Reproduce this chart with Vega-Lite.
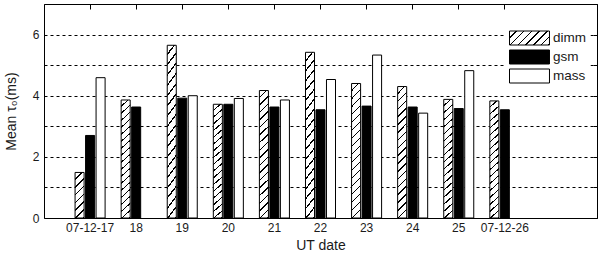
{
  "$schema": "https://vega.github.io/schema/vega-lite/v6.json",
  "width": 553,
  "height": 214,
  "autosize": {"type": "none"},
  "padding": {"left": 44, "top": 4, "right": 3, "bottom": 36},
  "background": "white",
  "config": {
    "view": {"stroke": "black", "strokeWidth": 1},
    "font": "Liberation Sans",
    "axis": {"labelFont": "Liberation Sans", "titleFont": "Liberation Sans", "labelColor": "#1a1a1a", "titleColor": "#1a1a1a", "titleFontWeight": "normal", "domainColor": "black", "tickColor": "black"}
  },
  "data": {"values": [
    {"date": "07-12-17", "series": "dimm", "value": 1.49},
    {"date": "07-12-17", "series": "gsm", "value": 2.70},
    {"date": "07-12-17", "series": "mass", "value": 4.59},
    {"date": "18", "series": "dimm", "value": 3.86},
    {"date": "18", "series": "gsm", "value": 3.63},
    {"date": "19", "series": "dimm", "value": 5.65},
    {"date": "19", "series": "gsm", "value": 3.92},
    {"date": "19", "series": "mass", "value": 4.00},
    {"date": "20", "series": "dimm", "value": 3.72},
    {"date": "20", "series": "gsm", "value": 3.72},
    {"date": "20", "series": "mass", "value": 3.91},
    {"date": "21", "series": "dimm", "value": 4.17},
    {"date": "21", "series": "gsm", "value": 3.63},
    {"date": "21", "series": "mass", "value": 3.86},
    {"date": "22", "series": "dimm", "value": 5.42},
    {"date": "22", "series": "gsm", "value": 3.54},
    {"date": "22", "series": "mass", "value": 4.53},
    {"date": "23", "series": "dimm", "value": 4.40},
    {"date": "23", "series": "gsm", "value": 3.66},
    {"date": "23", "series": "mass", "value": 5.33},
    {"date": "24", "series": "dimm", "value": 4.30},
    {"date": "24", "series": "gsm", "value": 3.63},
    {"date": "24", "series": "mass", "value": 3.43},
    {"date": "25", "series": "dimm", "value": 3.88},
    {"date": "25", "series": "gsm", "value": 3.58},
    {"date": "25", "series": "mass", "value": 4.82},
    {"date": "07-12-26", "series": "dimm", "value": 3.83},
    {"date": "07-12-26", "series": "gsm", "value": 3.54}
  ]},
  "layer": [
    {
      "mark": {"type": "bar", "stroke": "black", "strokeWidth": 1, "opacity": 1},
      "encoding": {
        "x": {
          "field": "date", "type": "ordinal",
          "scale": {"domain": ["07-12-17","18","19","20","21","22","23","24","25","07-12-26"], "paddingInner": 0, "paddingOuter": 1, "align": 0.25},
          "axis": {"title": "UT date", "titleFontSize": 14, "titlePadding": 5, "labelFontSize": 12, "labelAngle": 0, "labelPadding": 4, "ticks": false, "domain": false}
        },
        "xOffset": {
          "field": "series", "type": "nominal",
          "scale": {"domain": ["dimm", "gsm", "mass"], "paddingInner": 0.14, "paddingOuter": 0.765}
        },
        "y": {
          "field": "value", "type": "quantitative",
          "scale": {"domain": [0, 7], "nice": false},
          "axis": {"title": "Mean τ₀(ms)", "titleFontSize": 14, "titlePadding": 14, "labelFontSize": 12, "labelPadding": 5, "ticks": false, "domain": false,
            "values": [0, 1, 2, 3, 4, 5, 6, 7],
            "labelExpr": "datum.value % 2 === 0 ? datum.label : ''",
            "grid": true, "gridColor": "black", "gridDash": [3, 3], "gridWidth": 1, "gridOpacity": 1}
        },
        "fill": {
          "condition": [
            {"test": "datum.series == 'dimm' && datum.date == '07-12-17'", "value": {"gradient": "linear", "x1": 0, "y1": 0, "x2": 0.228, "y2": 1.153, "stops": [
              {"offset": 0, "color": "#fff"},
              {"offset": 0.1143, "color": "#fff"}, {"offset": 0.1143, "color": "#000"}, {"offset": 0.1429, "color": "#000"}, {"offset": 0.1429, "color": "#fff"},
              {"offset": 0.2571, "color": "#fff"}, {"offset": 0.2571, "color": "#000"}, {"offset": 0.2857, "color": "#000"}, {"offset": 0.2857, "color": "#fff"},
              {"offset": 0.4, "color": "#fff"}, {"offset": 0.4, "color": "#000"}, {"offset": 0.4286, "color": "#000"}, {"offset": 0.4286, "color": "#fff"},
              {"offset": 0.5429, "color": "#fff"}, {"offset": 0.5429, "color": "#000"}, {"offset": 0.5714, "color": "#000"}, {"offset": 0.5714, "color": "#fff"},
              {"offset": 0.6857, "color": "#fff"}, {"offset": 0.6857, "color": "#000"}, {"offset": 0.7143, "color": "#000"}, {"offset": 0.7143, "color": "#fff"},
              {"offset": 0.8286, "color": "#fff"}, {"offset": 0.8286, "color": "#000"}, {"offset": 0.8571, "color": "#000"}, {"offset": 0.8571, "color": "#fff"},
              {"offset": 0.9714, "color": "#fff"}, {"offset": 0.9714, "color": "#000"}, {"offset": 1, "color": "#000"}
            ]}},
            {"test": "datum.series == 'dimm'", "value": {"gradient": "linear", "x1": 0, "y1": 0, "x2": 0.0735, "y2": 1.064, "stops": [
              {"offset": 0, "color": "#fff"},
              {"offset": 0.0444, "color": "#fff"}, {"offset": 0.0444, "color": "#000"}, {"offset": 0.0556, "color": "#000"}, {"offset": 0.0556, "color": "#fff"},
              {"offset": 0.1, "color": "#fff"}, {"offset": 0.1, "color": "#000"}, {"offset": 0.1111, "color": "#000"}, {"offset": 0.1111, "color": "#fff"},
              {"offset": 0.1556, "color": "#fff"}, {"offset": 0.1556, "color": "#000"}, {"offset": 0.1667, "color": "#000"}, {"offset": 0.1667, "color": "#fff"},
              {"offset": 0.2111, "color": "#fff"}, {"offset": 0.2111, "color": "#000"}, {"offset": 0.2222, "color": "#000"}, {"offset": 0.2222, "color": "#fff"},
              {"offset": 0.2667, "color": "#fff"}, {"offset": 0.2667, "color": "#000"}, {"offset": 0.2778, "color": "#000"}, {"offset": 0.2778, "color": "#fff"},
              {"offset": 0.3222, "color": "#fff"}, {"offset": 0.3222, "color": "#000"}, {"offset": 0.3333, "color": "#000"}, {"offset": 0.3333, "color": "#fff"},
              {"offset": 0.3778, "color": "#fff"}, {"offset": 0.3778, "color": "#000"}, {"offset": 0.3889, "color": "#000"}, {"offset": 0.3889, "color": "#fff"},
              {"offset": 0.4333, "color": "#fff"}, {"offset": 0.4333, "color": "#000"}, {"offset": 0.4444, "color": "#000"}, {"offset": 0.4444, "color": "#fff"},
              {"offset": 0.4889, "color": "#fff"}, {"offset": 0.4889, "color": "#000"}, {"offset": 0.5, "color": "#000"}, {"offset": 0.5, "color": "#fff"},
              {"offset": 0.5444, "color": "#fff"}, {"offset": 0.5444, "color": "#000"}, {"offset": 0.5556, "color": "#000"}, {"offset": 0.5556, "color": "#fff"},
              {"offset": 0.6, "color": "#fff"}, {"offset": 0.6, "color": "#000"}, {"offset": 0.6111, "color": "#000"}, {"offset": 0.6111, "color": "#fff"},
              {"offset": 0.6556, "color": "#fff"}, {"offset": 0.6556, "color": "#000"}, {"offset": 0.6667, "color": "#000"}, {"offset": 0.6667, "color": "#fff"},
              {"offset": 0.7111, "color": "#fff"}, {"offset": 0.7111, "color": "#000"}, {"offset": 0.7222, "color": "#000"}, {"offset": 0.7222, "color": "#fff"},
              {"offset": 0.7667, "color": "#fff"}, {"offset": 0.7667, "color": "#000"}, {"offset": 0.7778, "color": "#000"}, {"offset": 0.7778, "color": "#fff"},
              {"offset": 0.8222, "color": "#fff"}, {"offset": 0.8222, "color": "#000"}, {"offset": 0.8333, "color": "#000"}, {"offset": 0.8333, "color": "#fff"},
              {"offset": 0.8778, "color": "#fff"}, {"offset": 0.8778, "color": "#000"}, {"offset": 0.8889, "color": "#000"}, {"offset": 0.8889, "color": "#fff"},
              {"offset": 0.9333, "color": "#fff"}, {"offset": 0.9333, "color": "#000"}, {"offset": 0.9444, "color": "#000"}, {"offset": 0.9444, "color": "#fff"},
              {"offset": 0.9889, "color": "#fff"}, {"offset": 0.9889, "color": "#000"}, {"offset": 1, "color": "#000"}
            ]}}
          ],
          "field": "series", "type": "nominal",
          "scale": {"domain": ["dimm", "gsm", "mass"], "range": [
            {"expr": "{gradient: 'linear', x1: 0, y1: 0, x2: 1.203, y2: 0.421, stops: [{offset: 0, color: '#fff'}, {offset: 0.1143, color: '#fff'}, {offset: 0.1143, color: '#000'}, {offset: 0.1429, color: '#000'}, {offset: 0.1429, color: '#fff'}, {offset: 0.2571, color: '#fff'}, {offset: 0.2571, color: '#000'}, {offset: 0.2857, color: '#000'}, {offset: 0.2857, color: '#fff'}, {offset: 0.4, color: '#fff'}, {offset: 0.4, color: '#000'}, {offset: 0.4286, color: '#000'}, {offset: 0.4286, color: '#fff'}, {offset: 0.5429, color: '#fff'}, {offset: 0.5429, color: '#000'}, {offset: 0.5714, color: '#000'}, {offset: 0.5714, color: '#fff'}, {offset: 0.6857, color: '#fff'}, {offset: 0.6857, color: '#000'}, {offset: 0.7143, color: '#000'}, {offset: 0.7143, color: '#fff'}, {offset: 0.8286, color: '#fff'}, {offset: 0.8286, color: '#000'}, {offset: 0.8571, color: '#000'}, {offset: 0.8571, color: '#fff'}, {offset: 0.9714, color: '#fff'}, {offset: 0.9714, color: '#000'}, {offset: 1, color: '#000'}]}"},
            "#000000", "#ffffff"]},
          "legend": {
            "title": null, "orient": "none", "legendX": 461, "legendY": 22.5,
            "padding": 4, "fillColor": "white", "strokeColor": "transparent",
            "symbolType": "M-1,-1H4.71V1H-1Z", "symbolSize": 196,
            "symbolStrokeColor": "black", "symbolStrokeWidth": 1, "symbolOpacity": 1,
            "labelFontSize": 13.5, "labelFont": "Liberation Sans", "labelColor": "#1a1a1a", "labelOffset": 29, "rowPadding": 0
          }
        }
      }
    },
    {
      "mark": {"type": "bar", "opacity": 0},
      "encoding": {
        "x": {
          "field": "date", "type": "ordinal",
          "scale": {"domain": ["07-12-17","18","19","20","21","22","23","24","25","07-12-26"], "paddingInner": 0, "paddingOuter": 1, "align": 0.25},
          "axis": {"orient": "top", "title": null, "labels": false, "ticks": true, "tickSize": 5, "offset": -5, "domain": false}
        },
        "y": {
          "field": "value", "type": "quantitative",
          "scale": {"domain": [0, 7], "nice": false},
          "axis": {"orient": "right", "title": null, "labels": false, "ticks": true, "tickSize": 4, "offset": -4, "domain": false, "grid": false, "values": [0, 1, 2, 3, 4, 5, 6, 7]}
        }
      }
    }
  ],
  "resolve": {"axis": {"x": "independent", "y": "independent"}}
}
